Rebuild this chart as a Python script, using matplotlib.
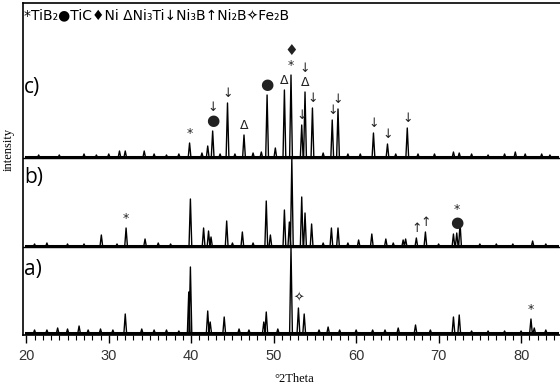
import matplotlib
matplotlib.use("Agg")
import matplotlib.pyplot as plt
import numpy as np

# peak positions (deg 2theta) and heights (a.u.)
c_peaks = [(39.8, 15), (42.0, 12), (42.6, 27), (44.4, 55), (46.4, 23), (49.2, 63),
           (50.2, 10), (51.3, 68), (52.1, 83), (53.4, 33), (53.8, 66), (54.7, 50),
           (57.1, 38), (57.8, 49), (62.1, 25), (63.8, 14), (66.2, 30)]
c_minor = [(21.5, 3), (24.0, 3), (27.0, 4), (28.5, 3), (30.0, 4), (31.3, 7), (32.0, 7),
           (34.3, 7), (35.5, 4), (37.0, 3), (38.5, 4), (41.3, 5), (43.5, 4), (45.3, 4),
           (47.5, 5), (48.5, 6), (56.0, 5), (59.0, 4), (60.5, 4), (64.8, 4), (67.5, 4),
           (69.5, 4), (71.8, 6), (72.5, 5), (74.0, 4), (76.0, 3), (78.0, 4), (79.3, 6),
           (80.5, 4), (82.5, 4), (83.5, 3)]

b_peaks = [(29.1, 12), (32.1, 19), (34.4, 8), (39.9, 48), (41.5, 19), (42.1, 16),
           (42.4, 10), (44.3, 26), (46.2, 15), (49.1, 46), (49.6, 12), (51.3, 37),
           (51.9, 25), (52.2, 88), (53.4, 50), (53.8, 34), (54.6, 23), (57.0, 19),
           (57.8, 19), (60.3, 7), (61.9, 13), (63.6, 8), (65.7, 7), (66.0, 8),
           (67.3, 9), (68.4, 15), (71.8, 13), (72.2, 14), (72.6, 24), (81.4, 6)]
b_minor = [(21.0, 3), (22.5, 4), (25.0, 3), (27.0, 3), (31.0, 3), (36.0, 4), (37.5, 3),
           (45.0, 4), (47.5, 4), (56.0, 4), (59.0, 4), (64.5, 4), (70.0, 3), (75.0, 3),
           (77.0, 3), (79.0, 3), (83.0, 3)]

a_peaks = [(23.8, 6), (26.4, 8), (32.0, 20), (39.7, 42), (39.9, 67), (42.0, 23),
           (42.3, 12), (44.0, 17), (45.8, 5), (48.8, 12), (49.1, 22), (52.1, 86),
           (53.0, 26), (53.7, 20), (56.6, 7), (65.1, 6), (67.2, 9), (71.8, 17),
           (72.5, 19), (81.2, 15), (81.6, 6)]
a_minor = [(21.0, 4), (22.5, 4), (25.0, 5), (27.5, 4), (29.0, 5), (30.5, 4), (34.0, 5),
           (35.5, 4), (37.0, 4), (38.5, 3), (47.0, 4), (50.5, 5), (55.5, 4), (58.0, 4),
           (60.0, 4), (62.0, 4), (63.5, 4), (69.0, 4), (74.0, 3), (76.0, 3), (78.0, 3),
           (80.0, 3), (83.0, 4)]

offsets = {"a": 1, "b": 88, "c": 177}
scan_start, scan_end = 20.0, 84.3

# phase symbols stacked above peaks: (pattern, position, symbols bottom->top)
marks = [("c", 39.8, ["*"]), ("c", 42.6, ["●", "↓"]), ("c", 44.4, ["↓"]),
         ("c", 46.4, ["Δ"]), ("c", 49.2, ["●"]), ("c", 51.3, ["Δ"]),
         ("c", 52.1, ["*", "♦"]), ("c", 53.4, ["↓"]), ("c", 53.8, ["Δ", "↓"]),
         ("c", 54.7, ["↓"]), ("c", 57.1, ["↓"]), ("c", 57.8, ["↓"]),
         ("c", 62.1, ["↓"]), ("c", 63.8, ["↓"]), ("c", 66.2, ["↓"]),
         ("b", 32.1, ["*"]), ("b", 67.3, ["↑"]), ("b", 68.4, ["↑"]),
         ("b", 72.2, ["●", "*"]),
         ("a", 53.0, ["✧"]), ("a", 81.2, ["*"])]

legend_text = "*TiB₂●TiC♦Ni ΔNi₃Ti↓Ni₃B↑Ni₂B✧Fe₂B"


def trace(peaks, minor, w=0.17):
    allp = sorted(peaks + minor)
    xs, ys = [scan_start], [0]
    for p, h in allp:
        xs += [p - w, p, p + w]
        ys += [0, h, 0]
    xs.append(scan_end)
    ys.append(0)
    return np.array(xs), np.array(ys)


fig = plt.figure(figsize=(5.6, 3.87), dpi=100)
ax = fig.add_axes([23 / 560, 1 - 335 / 387, 1 - 23 / 560 + 0.01, 332 / 387])

data = {"a": (a_peaks, a_minor), "b": (b_peaks, b_minor), "c": (c_peaks, c_minor)}
for key, (pk, mn) in data.items():
    x, y = trace(pk, mn)
    off = offsets[key]
    ax.plot(x, y + off, color="black", lw=1.0)
    ax.plot([scan_start, scan_end], [off + 1, off + 1], color="black", lw=2.2)
    if key != "a":
        ax.axhline(off, color="black", lw=1.0)

for key, pos, syms in marks:
    pk = data[key][0]
    h = min(pk, key=lambda t: abs(t[0] - pos))[1]
    y0 = offsets[key] + h + 3
    for i, s in enumerate(syms):
        size = 11 if s in ("●", "♦") else 9
        ax.text(pos, y0 + i * 14, s, ha="center", va="bottom", fontsize=size,
                family=["DejaVu Sans"], color="#222222")

label_font = ["Open Sans", "DejaVu Sans"]
for key, yy in (("c", 248), ("b", 157), ("a", 65)):
    ax.text(19.75, yy, key + ")", fontsize=15, va="center", ha="left", family=label_font)

fig.text(24 / 560, 1 - 15 / 387, legend_text, fontsize=10, va="center", ha="left",
         family=["Liberation Sans Narrow", "DejaVu Sans Condensed", "DejaVu Sans"])

ax.set_xlim(19.6, 85.4)
ax.set_ylim(0, 332)
ax.set_xticks(np.arange(20, 81, 10))
ax.set_xticks(np.arange(20, 85, 1), minor=True)
ax.set_yticks([])
ax.tick_params(axis="x", which="major", length=6, width=1, direction="out",
               labelsize=10.5, labelcolor="#333333", pad=4)
ax.tick_params(axis="x", which="minor", length=3.5, width=0.8, direction="out")
for lab in ax.get_xticklabels():
    lab.set_family("Liberation Sans")
ax.spines["right"].set_visible(False)
for s in ("left", "top", "bottom"):
    ax.spines[s].set_linewidth(1.2)

ax.set_xlabel("°2Theta", family="Liberation Serif", fontsize=9, labelpad=7)
ax.set_ylabel("intensity", family="Liberation Serif", fontsize=9)
ax.yaxis.set_label_coords(-0.015, 0.56)

fig.savefig("out.png", dpi=100)
